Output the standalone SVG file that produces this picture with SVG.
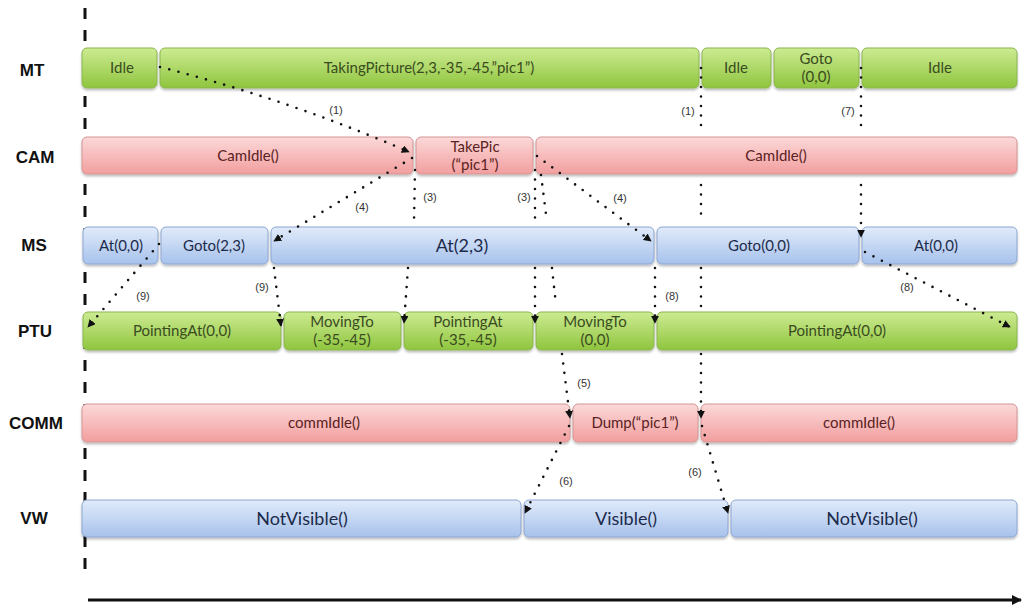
<svg xmlns="http://www.w3.org/2000/svg" width="1025" height="610" viewBox="0 0 1025 610">
<defs>
<linearGradient id="gG" x1="0" y1="0" x2="0" y2="1"><stop offset="0" stop-color="#cdeb92"/><stop offset="1" stop-color="#8fc53e"/></linearGradient>
<linearGradient id="gR" x1="0" y1="0" x2="0" y2="1"><stop offset="0" stop-color="#fcd9d9"/><stop offset="1" stop-color="#f29e9e"/></linearGradient>
<linearGradient id="gB" x1="0" y1="0" x2="0" y2="1"><stop offset="0" stop-color="#e1ebfa"/><stop offset="1" stop-color="#a7c2ec"/></linearGradient>
<filter id="sh" x="-5%" y="-20%" width="110%" height="150%"><feDropShadow dx="0" dy="2" stdDeviation="1.2" flood-color="#000" flood-opacity="0.25"/></filter>
<marker id="ah" viewBox="0 0 10 10" refX="9" refY="5" markerWidth="8" markerHeight="8" markerUnits="userSpaceOnUse" orient="auto"><path d="M0,0 L10,5 L0,10 z" fill="#111"/></marker>
<marker id="ax" viewBox="0 0 10 10" refX="9" refY="5" markerWidth="10" markerHeight="10" markerUnits="userSpaceOnUse" orient="auto"><path d="M0,0 L10,5 L0,10 z" fill="#111"/></marker>
</defs>
<style>
.g{fill:url(#gG);stroke:#8ab54e;stroke-width:1;filter:url(#sh)}
.r{fill:url(#gR);stroke:#d49494;stroke-width:1;filter:url(#sh)}
.b{fill:url(#gB);stroke:#8ca6d1;stroke-width:1;filter:url(#sh)}
.t{font-family:Lato,"Liberation Sans",sans-serif;font-size:15px;text-anchor:middle}
.tg{fill:#3a4c1f}.tr{fill:#5a2222}.tb{fill:#1c2b4b}
.big{font-size:18px}
.lane{font-family:"Liberation Sans",Arial,sans-serif;font-weight:bold;font-size:17px;fill:#111;text-anchor:middle}
.c{fill:none;stroke:#111;stroke-width:2.6;stroke-linecap:round;stroke-dasharray:0 9.5}
.n{font-family:"Liberation Sans",Arial,sans-serif;font-size:11px;fill:#333;text-anchor:middle}
</style>
<rect width="1025" height="610" fill="#fff"/>
<g id="axes">
<line x1="85" y1="8" x2="85" y2="578" stroke="#111" stroke-width="3" stroke-dasharray="11 11"/>
<line x1="88" y1="600" x2="1021" y2="600" stroke="#111" stroke-width="3" marker-end="url(#ax)"/>
</g>
<g id="lanes">
<text class="lane" x="32" y="76">MT</text>
<text class="lane" x="35" y="163">CAM</text>
<text class="lane" x="34" y="251">MS</text>
<text class="lane" x="35" y="337">PTU</text>
<text class="lane" x="36" y="429">COMM</text>
<text class="lane" x="34" y="524">VW</text>
</g>
<g id="MT">
<g id="mt-idle1"><rect class="g" x="82" y="48" width="75" height="40" rx="5"/><text class="t tg" x="122" y="73">Idle</text></g>
<g id="mt-taking"><rect class="g" x="160" y="48" width="539" height="40" rx="5"/><text class="t tg" x="429" y="73">TakingPicture(2,3,-35,-45,”pic1”)</text></g>
<g id="mt-idle2"><rect class="g" x="702" y="48" width="69" height="40" rx="5"/><text class="t tg" x="736" y="73">Idle</text></g>
<g id="mt-goto"><rect class="g" x="774" y="48" width="85" height="40" rx="5"/><text class="t tg" x="816" y="64">Goto</text><text class="t tg" x="816" y="82">(0,0)</text></g>
<g id="mt-idle3"><rect class="g" x="862" y="48" width="155" height="40" rx="5"/><text class="t tg" x="940" y="73">Idle</text></g>
</g>
<g id="CAM">
<g id="cam-idle1"><rect class="r" x="82" y="137" width="331" height="37" rx="5"/><text class="t tr" x="248" y="161">CamIdle()</text></g>
<g id="cam-takepic"><rect class="r" x="416" y="137" width="117" height="37" rx="5"/><text class="t tr" x="475" y="152">TakePic</text><text class="t tr" x="475" y="170">(“pic1”)</text></g>
<g id="cam-idle2"><rect class="r" x="536" y="137" width="481" height="37" rx="5"/><text class="t tr" x="776" y="161">CamIdle()</text></g>
</g>
<g id="MS">
<g id="ms-at1"><rect class="b" x="83" y="227" width="75" height="37" rx="5"/><text class="t tb" x="121" y="251">At(0,0)</text></g>
<g id="ms-goto1"><rect class="b" x="161" y="227" width="107" height="37" rx="5"/><text class="t tb" x="214" y="251">Goto(2,3)</text></g>
<g id="ms-at2"><rect class="b" x="271" y="227" width="383" height="37" rx="5"/><text class="t tb big" x="462" y="252">At(2,3)</text></g>
<g id="ms-goto2"><rect class="b" x="657" y="227" width="202" height="37" rx="5"/><text class="t tb" x="759" y="251">Goto(0,0)</text></g>
<g id="ms-at3"><rect class="b" x="862" y="227" width="155" height="37" rx="5"/><text class="t tb" x="936" y="251">At(0,0)</text></g>
</g>
<g id="PTU">
<g id="ptu-p1"><rect class="g" x="83" y="312" width="198" height="38" rx="5"/><text class="t tg" x="182" y="336">PointingAt(0,0)</text></g>
<g id="ptu-m1"><rect class="g" x="284" y="312" width="117" height="38" rx="5"/><text class="t tg" x="342" y="327">MovingTo</text><text class="t tg" x="342" y="345">(-35,-45)</text></g>
<g id="ptu-p2"><rect class="g" x="404" y="312" width="129" height="38" rx="5"/><text class="t tg" x="468" y="327">PointingAt</text><text class="t tg" x="468" y="345">(-35,-45)</text></g>
<g id="ptu-m2"><rect class="g" x="536" y="312" width="118" height="38" rx="5"/><text class="t tg" x="595" y="327">MovingTo</text><text class="t tg" x="595" y="345">(0,0)</text></g>
<g id="ptu-p3"><rect class="g" x="657" y="312" width="360" height="38" rx="5"/><text class="t tg" x="837" y="336">PointingAt(0,0)</text></g>
</g>
<g id="COMM">
<g id="comm-idle1"><rect class="r" x="82" y="404" width="488" height="38" rx="5"/><text class="t tr" x="324" y="428">commIdle()</text></g>
<g id="comm-dump"><rect class="r" x="573" y="404" width="125" height="38" rx="5"/><text class="t tr" x="635" y="428">Dump(“pic1”)</text></g>
<g id="comm-idle2"><rect class="r" x="701" y="404" width="316" height="38" rx="5"/><text class="t tr" x="859" y="428">commIdle()</text></g>
</g>
<g id="VW">
<g id="vw-nv1"><rect class="b" x="82" y="500" width="439" height="37" rx="5"/><text class="t tb big" x="302" y="525">NotVisible()</text></g>
<g id="vw-v"><rect class="b" x="524" y="500" width="204" height="37" rx="5"/><text class="t tb big" x="626" y="525">Visible()</text></g>
<g id="vw-nv2"><rect class="b" x="731" y="500" width="286" height="37" rx="5"/><text class="t tb big" x="872" y="525">NotVisible()</text></g>
</g>
<g id="connectors">
<path class="c" d="M160,67 Q290,100 409,152" marker-end="url(#ah)"/>
<path class="c" d="M701,68 L701,130 M701,185 L701,222 M701,268 L701,308 M701,354 L701,418" marker-end="url(#ah)"/>
<path class="c" d="M861,68 L861,130 M861,185 L861,237" marker-end="url(#ah)"/>
<path class="c" d="M412,158 L274,241" marker-end="url(#ah)"/>
<path class="c" d="M415,170 L414,222 M408,268 L404,323" marker-end="url(#ah)"/>
<path class="c" d="M535,170 L535,222 M535,268 L535,323" marker-end="url(#ah)"/>
<path class="c" d="M541,175 L547,222 M552,268 L556,305 M562,354 L570,418" marker-end="url(#ah)"/>
<path class="c" d="M537,156 L651,241" marker-end="url(#ah)"/>
<path class="c" d="M655,268 L655,323" marker-end="url(#ah)"/>
<path class="c" d="M865,252 L1010,327" marker-end="url(#ah)"/>
<path class="c" d="M159,244 L88,327" marker-end="url(#ah)"/>
<path class="c" d="M274,268 L281,326" marker-end="url(#ah)"/>
<path class="c" d="M569,426 L525,513" marker-end="url(#ah)"/>
<path class="c" d="M702,426 L728,513" marker-end="url(#ah)"/>
<g id="conn-labels">
<text class="n" x="336" y="114">(1)</text>
<text class="n" x="688" y="115">(1)</text>
<text class="n" x="848" y="115">(7)</text>
<text class="n" x="362" y="211">(4)</text>
<text class="n" x="430" y="201">(3)</text>
<text class="n" x="524" y="201">(3)</text>
<text class="n" x="620" y="202">(4)</text>
<text class="n" x="672" y="300">(8)</text>
<text class="n" x="907" y="291">(8)</text>
<text class="n" x="143" y="300">(9)</text>
<text class="n" x="262" y="291">(9)</text>
<text class="n" x="584" y="387">(5)</text>
<text class="n" x="566" y="485">(6)</text>
<text class="n" x="695" y="476">(6)</text>
</g>
</g>
</svg>
